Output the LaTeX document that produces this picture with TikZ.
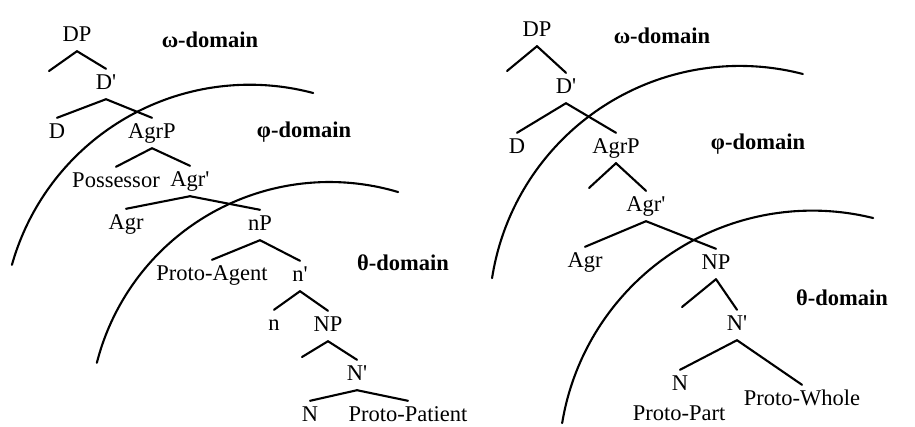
\documentclass[tikz,border=0pt]{standalone}
\usepackage{fontspec}
\setmainfont{Liberation Serif}
\begin{document}
\begin{tikzpicture}[x=1pt,y=-1pt,
  lbl/.style={anchor=base, font=\fontsize{22.5}{26}\selectfont, text height=15pt, text depth=5pt, inner xsep=0pt, inner ysep=5pt},
  dom/.style={anchor=base, font=\fontsize{22.5}{26}\selectfont\bfseries, inner sep=0pt},
  branch/.style={line width=2.1pt, line cap=round},
  boundary/.style={line width=2.1pt, line join=round, line cap=round}]
\useasboundingbox (0,0) rectangle (915,426);

% ---------- left tree ----------
\node[lbl] (lDP)   at (77,41)   {DP};
\node[lbl] (lDb)   at (106,89)  {D\textquotesingle};
\node[lbl] (lD)    at (57,138)  {D};
\node[lbl] (lAgrP) at (152,138) {AgrP};
\node[lbl] (lPoss) at (116,187) {Possessor};
\node[lbl] (lAgrb) at (190,186) {Agr\textquotesingle};
\node[lbl] (lAgr)  at (126,229) {Agr};
\node[lbl] (lnP)   at (260,230) {nP};
\node[lbl] (lPA)   at (212,280) {Proto-Agent};
\node[lbl] (lnb)   at (300,281) {n\textquotesingle};
\node[lbl] (ln)    at (274,330) {n};
\node[lbl] (lNP)   at (328,331) {NP};
\node[lbl] (lNb)   at (357,380) {N\textquotesingle};
\node[lbl] (lN)    at (310,421) {N};
\node[lbl] (lPP)   at (408,421) {Proto-Patient};
\coordinate (lDPs) at (49,71);
\coordinate (lNPs) at (302,357);

\node[dom] (lom) at (210,47)  {ω-domain};
\node[dom] (lph) at (304,137) {φ-domain};
\node[dom] (lth) at (403,270) {θ-domain};

\draw[branch] (lDP.south) -- (lDPs);
\draw[branch] (lDP.south) -- (lDb.north);
\draw[branch] (lDb.south) -- (lD.north);
\draw[branch] (lDb.south) -- (lAgrP.north);
\draw[branch] (lAgrP.south) -- (lPoss.north);
\draw[branch] (lAgrP.south) -- (lAgrb.north);
\draw[branch] (lAgrb.south) -- (lAgr.north);
\draw[branch] (lAgrb.south) -- (lnP.north);
\draw[branch] (lnP.south) -- (lPA.north);
\draw[branch] (lnP.south) -- (lnb.north);
\draw[branch] (lnb.south) -- (ln.north);
\draw[branch] (lnb.south) -- (lNP.north);
\draw[branch] (lNP.south) -- (lNPs);
\draw[branch] (lNP.south) -- (lNb.north);
\draw[branch] (lNb.south) -- (lN.north);
\draw[branch] (lNb.south) -- (lPP.north);

\draw[boundary] plot[domain=195.7:284.9, samples=80] ({249.7+247*cos(\x)},{331.7+247*sin(\x)});
\draw[boundary] plot[domain=194.3:286.6, samples=80] ({329.5+240.1*cos(\x)},{422.1+240.1*sin(\x)});

% ---------- right tree ----------
\node[lbl] (rDP)   at (537,36)  {DP};
\node[lbl] (rDb)   at (566,93)  {D\textquotesingle};
\node[lbl] (rD)    at (517,153) {D};
\node[lbl] (rAgrP) at (616,153) {AgrP};
\node[lbl] (rAgrb) at (646,211) {Agr\textquotesingle};
\node[lbl] (rAgr)  at (585,267) {Agr};
\node[lbl] (rNP)   at (716,269) {NP};
\node[lbl] (rNb)   at (737,330) {N\textquotesingle};
\node[lbl] (rN)    at (680,390) {N};
\node[lbl] (rPPart) at (679,420) {Proto-Part};
\node[lbl] (rPW)   at (802,405) {Proto-Whole};
\coordinate (rDPs)   at (507,71);
\coordinate (rAgrPs) at (589,188);
\coordinate (rNPs)   at (682,307);

\node[dom] (rom) at (662,43)  {ω-domain};
\node[dom] (rph) at (758,149) {φ-domain};
\node[dom] (rth) at (842,305) {θ-domain};

\draw[branch] (rDP.south) -- (rDPs);
\draw[branch] (rDP.south) -- (rDb.north);
\draw[branch] (rDb.south) -- (rD.north);
\draw[branch] (rDb.south) -- (rAgrP.north);
\draw[branch] (rAgrP.south) -- (rAgrPs);
\draw[branch] (rAgrP.south) -- (rAgrb.north);
\draw[branch] (rAgrb.south) -- (rAgr.north);
\draw[branch] (rAgrb.south) -- (rNP.north);
\draw[branch] (rNP.south) -- (rNPs);
\draw[branch] (rNP.south) -- (rNb.north);
\draw[branch] (rNb.south) -- (rN.north);
\draw[branch] (rNb.south) -- (rPW.north);

\draw[boundary] plot[domain=188.8:284.6, samples=80] ({739.7+250.6*cos(\x)},{316.5+250.6*sin(\x)});
\draw[boundary] plot[domain=189.3:283.9, samples=80] ({812.3+253.5*cos(\x)},{464.1+253.5*sin(\x)});
\end{tikzpicture}
\end{document}
